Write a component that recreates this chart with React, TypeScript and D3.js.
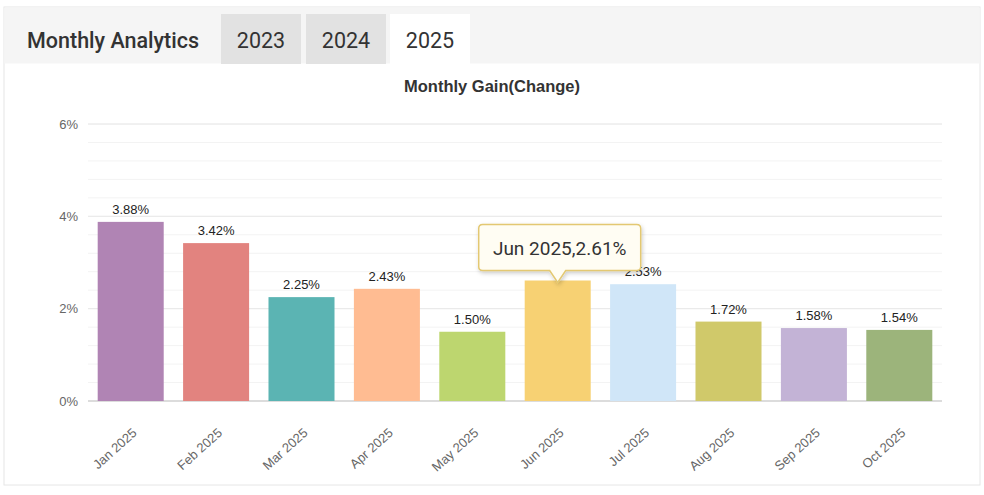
import React, { useRef, useEffect } from 'react';
import * as d3 from 'd3';

const months = ['Jan 2025', 'Feb 2025', 'Mar 2025', 'Apr 2025', 'May 2025', 'Jun 2025', 'Jul 2025', 'Aug 2025', 'Sep 2025', 'Oct 2025'];
const gains = [3.88, 3.42, 2.25, 2.43, 1.5, 2.61, 2.53, 1.72, 1.58, 1.54];
const barColors = ['#b084b4', '#e2837f', '#5bb4b3', '#ffbc92', '#bdd66f', '#f7d173', '#d0e6f8', '#d0c96a', '#c3b3d6', '#9cb47b'];
const yearTabs = ['2023', '2024', '2025'];
const majorTicks = [0, 2, 4, 6];

const width = 984;
const height = 495;
const margin = { top: 124, right: 42, bottom: 94, left: 88 };
const hoverIndex = 5; // Jun is hovered in the reference

const App: React.FC = () => {
  const svgRef = useRef<SVGSVGElement | null>(null);

  useEffect(() => {
    const svg = d3.select(svgRef.current);
    svg.selectAll('*').remove();

    const innerWidth = width - margin.left - margin.right;
    const innerHeight = height - margin.top - margin.bottom;
    const font = 'Liberation Sans, Arial, sans-serif';

    // card + header
    svg.append('rect').attr('x', 4).attr('y', 7).attr('width', 976).attr('height', 478)
      .attr('fill', '#fff').attr('stroke', '#e6e6e6');
    svg.append('rect').attr('x', 4.5).attr('y', 7.5).attr('width', 975).attr('height', 56).attr('fill', '#f5f5f5');

    svg.append('text').attr('x', 27).attr('y', 48).text('Monthly Analytics')
      .attr('font-family', 'Roboto, sans-serif').attr('font-size', 21.5).attr('font-weight', 500).attr('fill', '#333');

    const tabX = [221, 306, 390];
    yearTabs.forEach((t, i) => {
      svg.append('rect').attr('x', tabX[i]).attr('y', 14).attr('width', 80).attr('height', 50)
        .attr('fill', i === 2 ? '#fff' : '#e2e2e2');
      svg.append('text').attr('x', tabX[i] + 40).attr('y', 48).attr('text-anchor', 'middle').text(t)
        .attr('font-family', 'Roboto, sans-serif').attr('font-size', 21.5).attr('fill', '#333');
    });

    svg.append('text').attr('x', 492).attr('y', 92).attr('text-anchor', 'middle').text('Monthly Gain(Change)')
      .attr('font-family', font).attr('font-size', 16.5).attr('font-weight', 'bold').attr('fill', '#333');

    const x = d3.scaleBand<string>().domain(months).range([0, innerWidth]).paddingInner(0.227).paddingOuter(0.1135);
    const y = d3.scaleLinear().domain([0, 6]).range([innerHeight, 0]);

    const g = svg.append('g').attr('transform', `translate(${margin.left},${margin.top})`);

    // grid: minor every 0.4%, major at 2% steps
    const minor = d3.range(0, 6.01, 0.4);
    g.selectAll('.minor').data(minor).join('line')
      .attr('x1', 0).attr('x2', innerWidth).attr('y1', d => y(d)).attr('y2', d => y(d))
      .attr('stroke', '#f3f3f3');
    g.selectAll('.major').data(majorTicks).join('line')
      .attr('x1', 0).attr('x2', innerWidth).attr('y1', d => y(d)).attr('y2', d => y(d))
      .attr('stroke', d => (d === 0 ? '#dcdcdc' : '#e8e8e8')).attr('stroke-width', d => (d === 0 ? 2 : 1));

    g.selectAll('.ylab').data(majorTicks).join('text')
      .attr('x', -10).attr('y', d => y(d) + 4.5).attr('text-anchor', 'end').text(d => `${d}%`)
      .attr('font-family', font).attr('font-size', 13).attr('fill', '#666');

    g.selectAll('.bar').data(gains).join('rect')
      .attr('x', (_, i) => x(months[i]) as number).attr('width', x.bandwidth())
      .attr('y', d => y(d)).attr('height', d => innerHeight - y(d))
      .attr('fill', (_, i) => barColors[i]);

    g.selectAll('.vlab').data(gains).join('text')
      .attr('x', (_, i) => (x(months[i]) as number) + x.bandwidth() / 2).attr('y', d => y(d) - 8)
      .attr('text-anchor', 'middle').text((d, i) => (i === hoverIndex ? '' : `${d.toFixed(2)}%`))
      .attr('font-family', font).attr('font-size', 13).attr('fill', '#222');

    g.selectAll('.xlab').data(months).join('text')
      .attr('transform', d => `translate(${(x(d) as number) + x.bandwidth() / 2 + 7},${innerHeight + 33}) rotate(-42)`)
      .attr('text-anchor', 'end').text(d => d)
      .attr('font-family', font).attr('font-size', 13).attr('fill', '#666');

    // tooltip for the hovered bar
    const cx = (x(months[hoverIndex]) as number) + x.bandwidth() / 2;
    const tipY = y(gains[hoverIndex]) + 2;
    const bw = 162, bh = 46, left = cx - 79, top = tipY - 58;
    const path = `M${left + 4},${top} H${left + bw - 4} Q${left + bw},${top} ${left + bw},${top + 4} V${top + bh - 4} Q${left + bw},${top + bh} ${left + bw - 4},${top + bh} H${cx + 8} L${cx},${tipY} L${cx - 8},${top + bh} H${left + 4} Q${left},${top + bh} ${left},${top + bh - 4} V${top + 4} Q${left},${top} ${left + 4},${top} Z`;
    const defs = svg.append('defs');
    const f = defs.append('filter').attr('id', 'tipShadow').attr('x', '-20%').attr('y', '-20%').attr('width', '140%').attr('height', '150%');
    f.append('feDropShadow').attr('dx', 1).attr('dy', 2).attr('stdDeviation', 2).attr('flood-color', '#000').attr('flood-opacity', 0.2);
    g.append('path').attr('d', path).attr('fill', '#fffdf3').attr('stroke', '#e3c872').attr('stroke-width', 1.5)
      .attr('filter', 'url(#tipShadow)');
    g.append('text').attr('x', left + bw / 2).attr('y', top + 30).attr('text-anchor', 'middle')
      .text(`${months[hoverIndex]},${gains[hoverIndex].toFixed(2)}%`)
      .attr('font-family', 'Roboto, sans-serif').attr('font-size', 19).attr('fill', '#333');
  }, []);

  return (
    <>
      <style>{'body{margin:0}'}</style>
      <svg ref={svgRef} width={width} height={height} style={{ display: 'block', background: '#fff' }} />
    </>
  );
};

export default App;
